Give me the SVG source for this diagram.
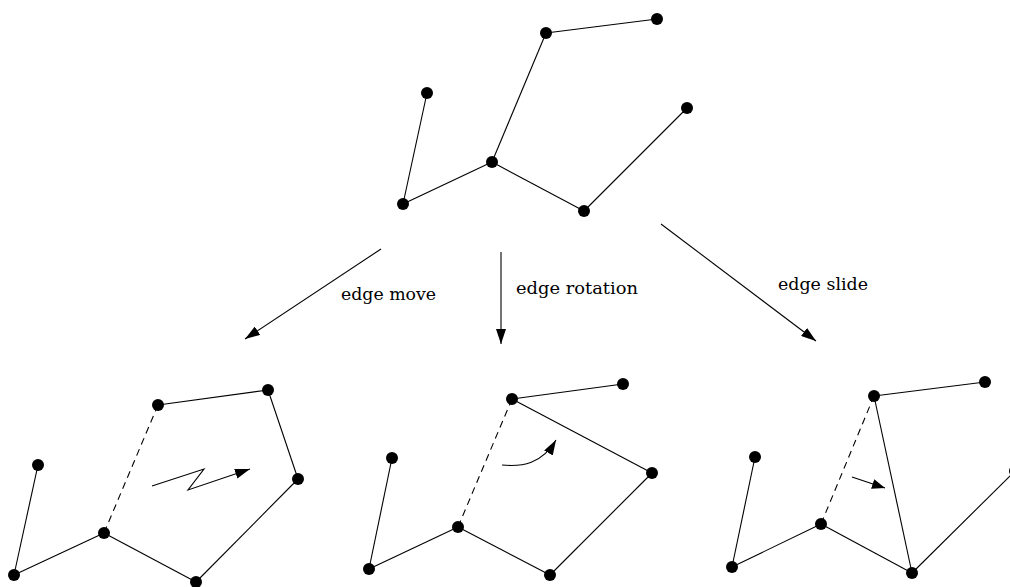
<svg xmlns="http://www.w3.org/2000/svg" width="1010" height="587" viewBox="0 0 1010 587">
  <style>
    .e { stroke: #000; stroke-width: 1.1; fill: none; }
    .d { stroke: #000; stroke-width: 1.1; fill: none; stroke-dasharray: 7 5; }
    .v { fill: #000; }
    .a { stroke: #000; stroke-width: 1.1; fill: none; marker-end: url(#head); }
    .lbl { font-family: "DejaVu Serif", "Liberation Serif", serif; font-size: 17px; fill: #000; }
  </style>
  <defs>
    <marker id="head" viewBox="0 0 15 10" refX="15" refY="5" markerWidth="15" markerHeight="10" markerUnits="userSpaceOnUse" orient="auto">
      <path d="M0,0 L15,5 L0,10 Z" fill="#000"/>
    </marker>
    <marker id="headS" viewBox="0 0 13 10" refX="13" refY="5" markerWidth="13" markerHeight="10" markerUnits="userSpaceOnUse" orient="auto">
      <path d="M0,0 L13,5 L0,10 Z" fill="#000"/>
    </marker>
  </defs>

  <!-- top tree -->
  <g id="tree-top">
    <g class="edges">
      <line class="e" x1="427" y1="93" x2="403" y2="204"/>
      <line class="e" x1="403" y1="204" x2="492" y2="162"/>
      <line class="e" x1="492" y1="162" x2="546" y2="33"/>
      <line class="e" x1="546" y1="33" x2="657" y2="19"/>
      <line class="e" x1="492" y1="162" x2="584" y2="211"/>
      <line class="e" x1="584" y1="211" x2="687" y2="108"/>
    </g>
    <circle class="v" cx="427" cy="93" r="6"/>
    <circle class="v" cx="403" cy="204" r="6"/>
    <circle class="v" cx="492" cy="162" r="6"/>
    <circle class="v" cx="546" cy="33" r="6"/>
    <circle class="v" cx="657" cy="19" r="6"/>
    <circle class="v" cx="584" cy="211" r="6"/>
    <circle class="v" cx="687" cy="108" r="6"/>
  </g>

  <!-- transitions -->
  <g id="connectors">
    <line class="a" x1="381" y1="249" x2="245" y2="339"/>
    <line class="a" x1="501" y1="252" x2="501" y2="344"/>
    <line class="a" x1="661" y1="224" x2="816" y2="341"/>
  </g>
  <g id="labels">
    <text class="lbl" x="341" y="300" textLength="95" lengthAdjust="spacingAndGlyphs">edge move</text>
    <text class="lbl" x="516" y="294" textLength="122" lengthAdjust="spacingAndGlyphs">edge rotation</text>
    <text class="lbl" x="778" y="290" textLength="90" lengthAdjust="spacingAndGlyphs">edge slide</text>
  </g>

  <!-- edge move result -->
  <g id="tree-move">
    <g class="edges">
      <line class="e" x1="38" y1="465" x2="14" y2="575"/>
      <line class="e" x1="14" y1="575" x2="104" y2="533"/>
      <line class="d" x1="104" y1="533" x2="158" y2="405"/>
      <line class="e" x1="158" y1="405" x2="268" y2="390"/>
      <line class="e" x1="268" y1="390" x2="298" y2="479"/>
      <line class="e" x1="298" y1="479" x2="196" y2="582"/>
      <line class="e" x1="104" y1="533" x2="196" y2="582"/>
    </g>
    <path class="e" d="M152,486 L204,469 L188,490 L250,469" marker-end="url(#head)"/>
    <circle class="v" cx="38" cy="465" r="6"/>
    <circle class="v" cx="14" cy="575" r="6"/>
    <circle class="v" cx="104" cy="533" r="6"/>
    <circle class="v" cx="158" cy="405" r="6"/>
    <circle class="v" cx="268" cy="390" r="6"/>
    <circle class="v" cx="298" cy="479" r="6"/>
    <circle class="v" cx="196" cy="582" r="6"/>
  </g>

  <!-- edge rotation result -->
  <g id="tree-rotation">
    <g class="edges">
      <line class="e" x1="392" y1="458" x2="369" y2="569"/>
      <line class="e" x1="369" y1="569" x2="458" y2="527"/>
      <line class="d" x1="458" y1="527" x2="512" y2="399"/>
      <line class="e" x1="512" y1="399" x2="623" y2="384"/>
      <line class="e" x1="512" y1="399" x2="652" y2="473"/>
      <line class="e" x1="652" y1="473" x2="550" y2="575"/>
      <line class="e" x1="458" y1="527" x2="550" y2="575"/>
    </g>
    <path class="e" d="M502,465 C522,467 542,464 556,440" marker-end="url(#head)"/>
    <circle class="v" cx="392" cy="458" r="6"/>
    <circle class="v" cx="369" cy="569" r="6"/>
    <circle class="v" cx="458" cy="527" r="6"/>
    <circle class="v" cx="512" cy="399" r="6"/>
    <circle class="v" cx="623" cy="384" r="6"/>
    <circle class="v" cx="652" cy="473" r="6"/>
    <circle class="v" cx="550" cy="575" r="6"/>
  </g>

  <!-- edge slide result -->
  <g id="tree-slide">
    <g class="edges">
      <line class="e" x1="755" y1="457" x2="732" y2="567"/>
      <line class="e" x1="732" y1="567" x2="821" y2="524"/>
      <line class="d" x1="821" y1="524" x2="874" y2="396"/>
      <line class="e" x1="874" y1="396" x2="985" y2="382"/>
      <line class="e" x1="874" y1="396" x2="912" y2="573"/>
      <line class="e" x1="821" y1="524" x2="912" y2="573"/>
      <line class="e" x1="912" y1="573" x2="1015" y2="471"/>
    </g>
    <line class="e" x1="852" y1="477" x2="885" y2="488" marker-end="url(#headS)"/>
    <circle class="v" cx="755" cy="457" r="6"/>
    <circle class="v" cx="732" cy="567" r="6"/>
    <circle class="v" cx="821" cy="524" r="6"/>
    <circle class="v" cx="874" cy="396" r="6"/>
    <circle class="v" cx="985" cy="382" r="6"/>
    <circle class="v" cx="912" cy="573" r="6"/>
    <circle class="v" cx="1015" cy="471" r="6"/>
  </g>
</svg>
